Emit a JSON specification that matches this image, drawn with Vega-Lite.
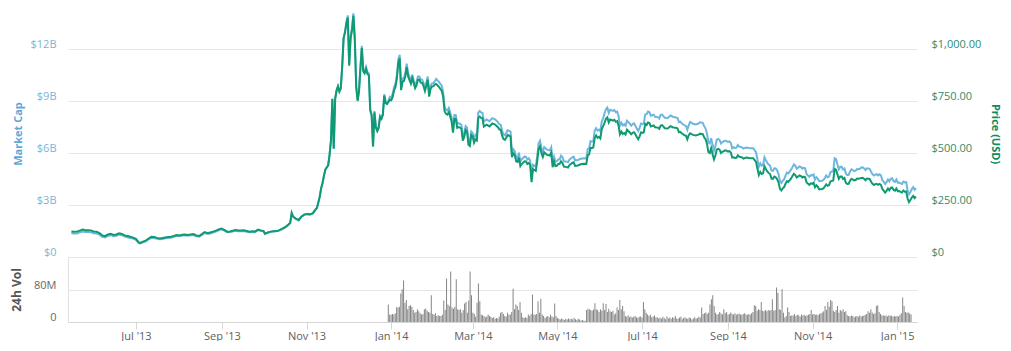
{
"$schema": "https://vega.github.io/schema/vega-lite/v6.json",
"padding": {"left": 10, "top": 9, "right": 5, "bottom": 0},
"background": "white",
"spacing": 0,
"bounds": "flush",
"config": {
  "view": {"stroke": null},
  "font": "Open Sans",
  "axis": {"labelFont": "Open Sans", "titleFont": "Open Sans", "labelFontSize": 11, "domain": false, "ticks": false}
},
"datasets": {
"price": [
{"d":"2013-05-19","p":123,"c":1.37},{"d":"2013-05-21","p":121,"c":1.35},{"d":"2013-05-23","p":122,"c":1.36},{"d":"2013-05-25","p":127,"c":1.42},{"d":"2013-05-27","p":132,"c":1.47},{"d":"2013-05-29","p":129,"c":1.44},{"d":"2013-05-31","p":129,"c":1.44},
{"d":"2013-06-02","p":128,"c":1.43},{"d":"2013-06-04","p":122,"c":1.37},{"d":"2013-06-06","p":121,"c":1.36},{"d":"2013-06-08","p":115,"c":1.29},{"d":"2013-06-10","p":104,"c":1.17},{"d":"2013-06-12","p":100,"c":1.13},{"d":"2013-06-14","p":108,"c":1.22},{"d":"2013-06-16","p":112,"c":1.26},{"d":"2013-06-18","p":106,"c":1.20},{"d":"2013-06-20","p":108,"c":1.22},{"d":"2013-06-22","p":114,"c":1.29},{"d":"2013-06-24","p":111,"c":1.26},{"d":"2013-06-26","p":104,"c":1.18},{"d":"2013-06-28","p":101,"c":1.14},{"d":"2013-06-30","p":97,"c":1.10},
{"d":"2013-07-02","p":93,"c":1.06},{"d":"2013-07-04","p":87,"c":0.99},{"d":"2013-07-06","p":70,"c":0.80},{"d":"2013-07-07","p":68,"c":0.78},{"d":"2013-07-09","p":74,"c":0.85},{"d":"2013-07-11","p":79,"c":0.90},{"d":"2013-07-13","p":89,"c":1.02},{"d":"2013-07-15","p":97,"c":1.11},{"d":"2013-07-17","p":96,"c":1.10},{"d":"2013-07-19","p":92,"c":1.05},{"d":"2013-07-21","p":89,"c":1.02},{"d":"2013-07-23","p":91,"c":1.04},{"d":"2013-07-25","p":94,"c":1.08},{"d":"2013-07-27","p":96,"c":1.10},{"d":"2013-07-29","p":97,"c":1.11},{"d":"2013-07-31","p":101,"c":1.16},
{"d":"2013-08-02","p":106,"c":1.22},{"d":"2013-08-04","p":104,"c":1.20},{"d":"2013-08-06","p":107,"c":1.24},{"d":"2013-08-08","p":108,"c":1.25},{"d":"2013-08-10","p":106,"c":1.22},{"d":"2013-08-12","p":108,"c":1.25},{"d":"2013-08-14","p":110,"c":1.27},{"d":"2013-08-16","p":104,"c":1.20},{"d":"2013-08-18","p":101,"c":1.17},{"d":"2013-08-20","p":110,"c":1.27},{"d":"2013-08-22","p":120,"c":1.39},{"d":"2013-08-24","p":115,"c":1.33},{"d":"2013-08-26","p":118,"c":1.36},{"d":"2013-08-28","p":122,"c":1.41},{"d":"2013-08-30","p":127,"c":1.47},
{"d":"2013-09-01","p":133,"c":1.54},{"d":"2013-09-03","p":137,"c":1.60},{"d":"2013-09-05","p":130,"c":1.52},{"d":"2013-09-07","p":122,"c":1.43},{"d":"2013-09-09","p":123,"c":1.44},{"d":"2013-09-11","p":126,"c":1.47},{"d":"2013-09-13","p":130,"c":1.52},{"d":"2013-09-15","p":127,"c":1.49},{"d":"2013-09-17","p":127,"c":1.49},{"d":"2013-09-19","p":128,"c":1.50},{"d":"2013-09-21","p":125,"c":1.46},{"d":"2013-09-23","p":122,"c":1.43},{"d":"2013-09-25","p":124,"c":1.45},{"d":"2013-09-27","p":123,"c":1.44},{"d":"2013-09-29","p":132,"c":1.55},
{"d":"2013-10-01","p":128,"c":1.50},{"d":"2013-10-03","p":125,"c":1.48},{"d":"2013-10-04","p":112,"c":1.33},{"d":"2013-10-06","p":118,"c":1.40},{"d":"2013-10-08","p":122,"c":1.45},{"d":"2013-10-10","p":124,"c":1.47},{"d":"2013-10-12","p":125,"c":1.48},{"d":"2013-10-14","p":128,"c":1.52},{"d":"2013-10-16","p":135,"c":1.60},{"d":"2013-10-18","p":142,"c":1.68},{"d":"2013-10-20","p":152,"c":1.80},{"d":"2013-10-22","p":165,"c":1.96},{"d":"2013-10-23","p":212,"c":2.51},{"d":"2013-10-24","p":195,"c":2.31},{"d":"2013-10-26","p":185,"c":2.19},{"d":"2013-10-28","p":178,"c":2.11},{"d":"2013-10-30","p":195,"c":2.31},
{"d":"2013-11-01","p":204,"c":2.45},{"d":"2013-11-03","p":207,"c":2.48},{"d":"2013-11-05","p":205,"c":2.46},{"d":"2013-11-07","p":210,"c":2.52},{"d":"2013-11-09","p":228,"c":2.74},{"d":"2013-11-10","p":236,"c":2.83},{"d":"2013-11-11","p":262,"c":3.14},{"d":"2013-11-12","p":290,"c":3.48},{"d":"2013-11-13","p":330,"c":3.96},{"d":"2013-11-14","p":355,"c":4.27},{"d":"2013-11-15","p":390,"c":4.69},{"d":"2013-11-16","p":420,"c":5.05},{"d":"2013-11-17","p":430,"c":5.17},{"d":"2013-11-18","p":440,"c":5.29},{"d":"2013-11-19","p":490,"c":5.89},{"d":"2013-11-20","p":560,"c":6.73},{"d":"2013-11-21","p":760,"c":9.14},{"d":"2013-11-22","p":520,"c":6.25},{"d":"2013-11-23","p":760,"c":9.14},{"d":"2013-11-24","p":800,"c":9.62},{"d":"2013-11-25","p":820,"c":9.86},{"d":"2013-11-26","p":795,"c":9.56},{"d":"2013-11-27","p":810,"c":9.74},{"d":"2013-11-28","p":913,"c":10.97},{"d":"2013-11-29","p":1050,"c":12.62},{"d":"2013-11-30","p":1080,"c":12.98},
{"d":"2013-12-01","p":1120,"c":13.57},{"d":"2013-12-02","p":1150,"c":13.94},{"d":"2013-12-03","p":920,"c":11.15},{"d":"2013-12-04","p":1050,"c":12.73},{"d":"2013-12-05","p":1090,"c":13.21},{"d":"2013-12-06","p":1160,"c":14.06},{"d":"2013-12-07","p":1045,"c":12.67},{"d":"2013-12-08","p":816,"c":9.89},{"d":"2013-12-09","p":750,"c":9.09},{"d":"2013-12-10","p":795,"c":9.64},{"d":"2013-12-11","p":905,"c":10.97},{"d":"2013-12-12","p":1005,"c":12.18},{"d":"2013-12-13","p":893,"c":10.82},{"d":"2013-12-14","p":883,"c":10.70},{"d":"2013-12-15","p":905,"c":10.97},{"d":"2013-12-16","p":880,"c":10.67},{"d":"2013-12-17","p":874,"c":10.59},{"d":"2013-12-18","p":704,"c":8.53},{"d":"2013-12-19","p":680,"c":8.24},{"d":"2013-12-20","p":530,"c":6.42},{"d":"2013-12-21","p":695,"c":8.42},{"d":"2013-12-22","p":622,"c":7.54},{"d":"2013-12-23","p":605,"c":7.33},{"d":"2013-12-24","p":619,"c":7.50},{"d":"2013-12-25","p":673,"c":8.16},{"d":"2013-12-26","p":664,"c":8.05},{"d":"2013-12-27","p":682,"c":8.27},{"d":"2013-12-28","p":775,"c":9.39},{"d":"2013-12-29","p":740,"c":8.97},{"d":"2013-12-30","p":735,"c":8.91},{"d":"2013-12-31","p":745,"c":9.03},
{"d":"2014-01-01","p":756,"c":9.24},{"d":"2014-01-02","p":754,"c":9.21},{"d":"2014-01-03","p":770,"c":9.41},{"d":"2014-01-04","p":802,"c":9.80},{"d":"2014-01-05","p":818,"c":10.00},{"d":"2014-01-06","p":859,"c":10.50},{"d":"2014-01-07","p":933,"c":11.40},{"d":"2014-01-08","p":955,"c":11.67},{"d":"2014-01-09","p":802,"c":9.80},{"d":"2014-01-10","p":842,"c":10.29},{"d":"2014-01-11","p":846,"c":10.34},{"d":"2014-01-12","p":868,"c":10.61},{"d":"2014-01-13","p":913,"c":11.16},{"d":"2014-01-14","p":868,"c":10.61},{"d":"2014-01-15","p":850,"c":10.39},{"d":"2014-01-16","p":833,"c":10.18},{"d":"2014-01-17","p":860,"c":10.51},{"d":"2014-01-18","p":835,"c":10.20},{"d":"2014-01-19","p":812,"c":9.92},{"d":"2014-01-20","p":826,"c":10.09},{"d":"2014-01-21","p":852,"c":10.41},{"d":"2014-01-22","p":852,"c":10.41},{"d":"2014-01-23","p":838,"c":10.24},{"d":"2014-01-24","p":837,"c":10.23},{"d":"2014-01-25","p":821,"c":10.03},{"d":"2014-01-26","p":798,"c":9.75},{"d":"2014-01-27","p":823,"c":10.06},{"d":"2014-01-28","p":852,"c":10.41},{"d":"2014-01-29","p":771,"c":9.42},{"d":"2014-01-30","p":809,"c":9.89},{"d":"2014-01-31","p":819,"c":10.01},
{"d":"2014-02-01","p":821,"c":10.03},{"d":"2014-02-02","p":829,"c":10.13},{"d":"2014-02-03","p":832,"c":10.27},{"d":"2014-02-05","p":818,"c":10.10},{"d":"2014-02-07","p":799,"c":9.87},{"d":"2014-02-08","p":769,"c":9.50},{"d":"2014-02-09","p":701,"c":8.66},{"d":"2014-02-10","p":688,"c":8.50},{"d":"2014-02-11","p":684,"c":8.45},{"d":"2014-02-12","p":696,"c":8.60},{"d":"2014-02-13","p":676,"c":8.35},{"d":"2014-02-14","p":651,"c":8.04},{"d":"2014-02-15","p":598,"c":7.39},{"d":"2014-02-16","p":664,"c":8.20},{"d":"2014-02-17","p":663,"c":8.19},{"d":"2014-02-18","p":621,"c":7.67},{"d":"2014-02-19","p":625,"c":7.72},{"d":"2014-02-20","p":622,"c":7.68},{"d":"2014-02-21","p":616,"c":7.61},{"d":"2014-02-22","p":560,"c":6.92},{"d":"2014-02-23","p":577,"c":7.13},{"d":"2014-02-24","p":611,"c":7.55},{"d":"2014-02-25","p":604,"c":7.46},{"d":"2014-02-26","p":540,"c":6.67},{"d":"2014-02-27","p":534,"c":6.59},{"d":"2014-02-28","p":586,"c":7.24},
{"d":"2014-03-01","p":580,"c":7.16},{"d":"2014-03-02","p":549,"c":6.78},{"d":"2014-03-03","p":565,"c":7.05},{"d":"2014-03-04","p":560,"c":6.98},{"d":"2014-03-05","p":668,"c":8.33},{"d":"2014-03-06","p":675,"c":8.42},{"d":"2014-03-07","p":669,"c":8.34},{"d":"2014-03-08","p":667,"c":8.32},{"d":"2014-03-09","p":627,"c":7.82},{"d":"2014-03-11","p":636,"c":7.93},{"d":"2014-03-13","p":628,"c":7.83},{"d":"2014-03-15","p":642,"c":8.01},{"d":"2014-03-17","p":637,"c":7.94},{"d":"2014-03-19","p":624,"c":7.78},{"d":"2014-03-20","p":614,"c":7.66},{"d":"2014-03-21","p":612,"c":7.63},{"d":"2014-03-22","p":583,"c":7.27},{"d":"2014-03-23","p":567,"c":7.07},{"d":"2014-03-24","p":563,"c":7.02},{"d":"2014-03-26","p":587,"c":7.32},{"d":"2014-03-27","p":583,"c":7.27},{"d":"2014-03-28","p":580,"c":7.23},{"d":"2014-03-29","p":480,"c":5.99},{"d":"2014-03-30","p":498,"c":6.21},{"d":"2014-03-31","p":490,"c":6.11},
{"d":"2014-04-01","p":460,"c":5.74},{"d":"2014-04-02","p":457,"c":5.70},{"d":"2014-04-03","p":478,"c":6.02},{"d":"2014-04-04","p":437,"c":5.51},{"d":"2014-04-05","p":447,"c":5.63},{"d":"2014-04-07","p":460,"c":5.80},{"d":"2014-04-08","p":459,"c":5.78},{"d":"2014-04-09","p":447,"c":5.63},{"d":"2014-04-10","p":452,"c":5.70},{"d":"2014-04-11","p":442,"c":5.57},{"d":"2014-04-12","p":360,"c":4.54},{"d":"2014-04-13","p":422,"c":5.32},{"d":"2014-04-15","p":414,"c":5.22},{"d":"2014-04-16","p":460,"c":5.80},{"d":"2014-04-17","p":519,"c":6.54},{"d":"2014-04-18","p":532,"c":6.70},{"d":"2014-04-19","p":500,"c":6.30},{"d":"2014-04-20","p":481,"c":6.06},{"d":"2014-04-21","p":503,"c":6.34},{"d":"2014-04-23","p":491,"c":6.19},{"d":"2014-04-25","p":488,"c":6.15},{"d":"2014-04-26","p":502,"c":6.33},{"d":"2014-04-27","p":432,"c":5.44},{"d":"2014-04-28","p":459,"c":5.78},{"d":"2014-04-29","p":437,"c":5.51},{"d":"2014-04-30","p":438,"c":5.52},
{"d":"2014-05-01","p":447,"c":5.63},{"d":"2014-05-02","p":448,"c":5.64},{"d":"2014-05-03","p":460,"c":5.85},{"d":"2014-05-04","p":452,"c":5.75},{"d":"2014-05-05","p":435,"c":5.53},{"d":"2014-05-07","p":432,"c":5.50},{"d":"2014-05-08","p":430,"c":5.47},{"d":"2014-05-09","p":442,"c":5.62},{"d":"2014-05-11","p":452,"c":5.75},{"d":"2014-05-12","p":455,"c":5.79},{"d":"2014-05-13","p":438,"c":5.57},{"d":"2014-05-15","p":440,"c":5.60},{"d":"2014-05-17","p":446,"c":5.67},{"d":"2014-05-19","p":448,"c":5.70},{"d":"2014-05-21","p":447,"c":5.69},{"d":"2014-05-22","p":489,"c":6.22},{"d":"2014-05-23","p":493,"c":6.27},{"d":"2014-05-24","p":525,"c":6.68},{"d":"2014-05-25","p":523,"c":6.65},{"d":"2014-05-26","p":527,"c":6.70},{"d":"2014-05-27","p":573,"c":7.29},{"d":"2014-05-28","p":584,"c":7.43},{"d":"2014-05-29","p":573,"c":7.29},{"d":"2014-05-30","p":578,"c":7.35},{"d":"2014-05-31","p":570,"c":7.25},
{"d":"2014-06-01","p":614,"c":7.81},{"d":"2014-06-02","p":629,"c":8.00},{"d":"2014-06-03","p":645,"c":8.29},{"d":"2014-06-04","p":664,"c":8.53},{"d":"2014-06-05","p":671,"c":8.62},{"d":"2014-06-06","p":647,"c":8.31},{"d":"2014-06-07","p":661,"c":8.49},{"d":"2014-06-09","p":656,"c":8.43},{"d":"2014-06-10","p":660,"c":8.48},{"d":"2014-06-11","p":650,"c":8.35},{"d":"2014-06-12","p":653,"c":8.39},{"d":"2014-06-13","p":632,"c":8.12},{"d":"2014-06-14","p":590,"c":7.58},{"d":"2014-06-15","p":603,"c":7.75},{"d":"2014-06-16","p":591,"c":7.59},{"d":"2014-06-17","p":596,"c":7.66},{"d":"2014-06-18","p":589,"c":7.57},{"d":"2014-06-19","p":612,"c":7.86},{"d":"2014-06-21","p":599,"c":7.70},{"d":"2014-06-22","p":590,"c":7.58},{"d":"2014-06-23","p":597,"c":7.67},{"d":"2014-06-24","p":600,"c":7.71},{"d":"2014-06-25","p":590,"c":7.58},{"d":"2014-06-26","p":577,"c":7.41},{"d":"2014-06-27","p":566,"c":7.27},{"d":"2014-06-28","p":580,"c":7.45},{"d":"2014-06-29","p":599,"c":7.70},{"d":"2014-06-30","p":597,"c":7.67},
{"d":"2014-07-01","p":600,"c":7.71},{"d":"2014-07-02","p":640,"c":8.22},{"d":"2014-07-03","p":635,"c":8.24},{"d":"2014-07-04","p":647,"c":8.39},{"d":"2014-07-05","p":644,"c":8.35},{"d":"2014-07-06","p":628,"c":8.15},{"d":"2014-07-08","p":633,"c":8.21},{"d":"2014-07-09","p":624,"c":8.09},{"d":"2014-07-11","p":622,"c":8.07},{"d":"2014-07-12","p":616,"c":7.99},{"d":"2014-07-13","p":632,"c":8.20},{"d":"2014-07-14","p":634,"c":8.22},{"d":"2014-07-16","p":619,"c":8.03},{"d":"2014-07-18","p":618,"c":8.02},{"d":"2014-07-20","p":629,"c":8.16},{"d":"2014-07-22","p":623,"c":8.08},{"d":"2014-07-24","p":621,"c":8.05},{"d":"2014-07-25","p":618,"c":8.02},{"d":"2014-07-26","p":600,"c":7.78},{"d":"2014-07-27","p":602,"c":7.81},{"d":"2014-07-28","p":595,"c":7.72},{"d":"2014-07-30","p":585,"c":7.59},{"d":"2014-07-31","p":584,"c":7.57},
{"d":"2014-08-01","p":566,"c":7.34},{"d":"2014-08-02","p":585,"c":7.59},{"d":"2014-08-03","p":595,"c":7.79},{"d":"2014-08-05","p":587,"c":7.69},{"d":"2014-08-07","p":584,"c":7.65},{"d":"2014-08-09","p":588,"c":7.70},{"d":"2014-08-10","p":593,"c":7.77},{"d":"2014-08-12","p":591,"c":7.74},{"d":"2014-08-13","p":576,"c":7.55},{"d":"2014-08-14","p":566,"c":7.41},{"d":"2014-08-15","p":545,"c":7.14},{"d":"2014-08-16","p":505,"c":6.62},{"d":"2014-08-17","p":500,"c":6.55},{"d":"2014-08-18","p":523,"c":6.85},{"d":"2014-08-19","p":494,"c":6.47},{"d":"2014-08-20","p":469,"c":6.14},{"d":"2014-08-21","p":488,"c":6.39},{"d":"2014-08-22","p":517,"c":6.77},{"d":"2014-08-23","p":520,"c":6.81},{"d":"2014-08-24","p":516,"c":6.76},{"d":"2014-08-25","p":500,"c":6.55},{"d":"2014-08-26","p":506,"c":6.63},{"d":"2014-08-28","p":513,"c":6.72},{"d":"2014-08-29","p":511,"c":6.69},{"d":"2014-08-30","p":507,"c":6.64},{"d":"2014-08-31","p":509,"c":6.67},
{"d":"2014-09-01","p":502,"c":6.58},{"d":"2014-09-02","p":478,"c":6.26},{"d":"2014-09-03","p":479,"c":6.33},{"d":"2014-09-04","p":476,"c":6.29},{"d":"2014-09-05","p":477,"c":6.31},{"d":"2014-09-06","p":489,"c":6.46},{"d":"2014-09-07","p":482,"c":6.37},{"d":"2014-09-09","p":479,"c":6.33},{"d":"2014-09-10","p":473,"c":6.25},{"d":"2014-09-12","p":478,"c":6.32},{"d":"2014-09-14","p":476,"c":6.29},{"d":"2014-09-16","p":475,"c":6.28},{"d":"2014-09-17","p":475,"c":6.28},{"d":"2014-09-18","p":466,"c":6.16},{"d":"2014-09-19","p":457,"c":6.04},{"d":"2014-09-20","p":424,"c":5.61},{"d":"2014-09-21","p":394,"c":5.21},{"d":"2014-09-22","p":409,"c":5.41},{"d":"2014-09-23","p":399,"c":5.27},{"d":"2014-09-24","p":402,"c":5.31},{"d":"2014-09-25","p":436,"c":5.76},{"d":"2014-09-26","p":423,"c":5.59},{"d":"2014-09-27","p":411,"c":5.43},{"d":"2014-09-28","p":404,"c":5.34},{"d":"2014-09-29","p":399,"c":5.27},{"d":"2014-09-30","p":377,"c":4.98},
{"d":"2014-10-01","p":376,"c":4.97},{"d":"2014-10-02","p":387,"c":5.12},{"d":"2014-10-03","p":383,"c":5.11},{"d":"2014-10-04","p":375,"c":5.00},{"d":"2014-10-05","p":359,"c":4.79},{"d":"2014-10-06","p":328,"c":4.38},{"d":"2014-10-07","p":320,"c":4.27},{"d":"2014-10-08","p":330,"c":4.40},{"d":"2014-10-09","p":336,"c":4.48},{"d":"2014-10-10","p":352,"c":4.70},{"d":"2014-10-11","p":365,"c":4.87},{"d":"2014-10-12","p":361,"c":4.82},{"d":"2014-10-14","p":378,"c":5.04},{"d":"2014-10-15","p":390,"c":5.20},{"d":"2014-10-16","p":400,"c":5.34},{"d":"2014-10-17","p":394,"c":5.26},{"d":"2014-10-18","p":382,"c":5.10},{"d":"2014-10-20","p":392,"c":5.23},{"d":"2014-10-21","p":389,"c":5.19},{"d":"2014-10-22","p":382,"c":5.10},{"d":"2014-10-23","p":386,"c":5.15},{"d":"2014-10-24","p":383,"c":5.11},{"d":"2014-10-25","p":358,"c":4.78},{"d":"2014-10-27","p":347,"c":4.63},{"d":"2014-10-28","p":354,"c":4.72},{"d":"2014-10-29","p":352,"c":4.70},{"d":"2014-10-30","p":357,"c":4.76},{"d":"2014-10-31","p":335,"c":4.47},
{"d":"2014-11-01","p":345,"c":4.60},{"d":"2014-11-02","p":338,"c":4.51},{"d":"2014-11-03","p":325,"c":4.37},{"d":"2014-11-05","p":327,"c":4.40},{"d":"2014-11-06","p":330,"c":4.44},{"d":"2014-11-07","p":339,"c":4.56},{"d":"2014-11-08","p":349,"c":4.70},{"d":"2014-11-09","p":342,"c":4.60},{"d":"2014-11-10","p":345,"c":4.64},{"d":"2014-11-11","p":363,"c":4.89},{"d":"2014-11-12","p":366,"c":4.93},{"d":"2014-11-13","p":367,"c":4.94},{"d":"2014-11-14","p":423,"c":5.69},{"d":"2014-11-15","p":420,"c":5.65},{"d":"2014-11-16","p":397,"c":5.34},{"d":"2014-11-17","p":376,"c":5.06},{"d":"2014-11-18","p":387,"c":5.21},{"d":"2014-11-19","p":387,"c":5.21},{"d":"2014-11-20","p":375,"c":5.05},{"d":"2014-11-21","p":380,"c":5.11},{"d":"2014-11-22","p":357,"c":4.81},{"d":"2014-11-23","p":351,"c":4.72},{"d":"2014-11-24","p":352,"c":4.74},{"d":"2014-11-25","p":367,"c":4.94},{"d":"2014-11-26","p":376,"c":5.06},{"d":"2014-11-28","p":368,"c":4.95},{"d":"2014-11-29","p":370,"c":4.98},{"d":"2014-11-30","p":377,"c":5.07},
{"d":"2014-12-01","p":376,"c":5.06},{"d":"2014-12-02","p":378,"c":5.09},{"d":"2014-12-03","p":380,"c":5.16},{"d":"2014-12-04","p":381,"c":5.17},{"d":"2014-12-05","p":376,"c":5.11},{"d":"2014-12-06","p":369,"c":5.01},{"d":"2014-12-07","p":377,"c":5.12},{"d":"2014-12-09","p":375,"c":5.09},{"d":"2014-12-10","p":362,"c":4.92},{"d":"2014-12-11","p":352,"c":4.78},{"d":"2014-12-12","p":346,"c":4.70},{"d":"2014-12-13","p":350,"c":4.75},{"d":"2014-12-14","p":352,"c":4.78},{"d":"2014-12-15","p":347,"c":4.71},{"d":"2014-12-16","p":351,"c":4.77},{"d":"2014-12-17","p":347,"c":4.71},{"d":"2014-12-18","p":327,"c":4.44},{"d":"2014-12-19","p":319,"c":4.33},{"d":"2014-12-20","p":310,"c":4.21},{"d":"2014-12-21","p":318,"c":4.32},{"d":"2014-12-22","p":329,"c":4.47},{"d":"2014-12-23","p":321,"c":4.36},{"d":"2014-12-24","p":332,"c":4.51},{"d":"2014-12-25","p":334,"c":4.54},{"d":"2014-12-26","p":322,"c":4.37},{"d":"2014-12-27","p":319,"c":4.33},{"d":"2014-12-28","p":329,"c":4.47},{"d":"2014-12-29","p":316,"c":4.29},{"d":"2014-12-30","p":317,"c":4.30},{"d":"2014-12-31","p":313,"c":4.25},
{"d":"2015-01-01","p":310,"c":4.21},{"d":"2015-01-02","p":320,"c":4.35},{"d":"2015-01-03","p":314,"c":4.30},{"d":"2015-01-04","p":315,"c":4.32},{"d":"2015-01-05","p":281,"c":3.85},{"d":"2015-01-06","p":264,"c":3.62},{"d":"2015-01-07","p":274,"c":3.75},{"d":"2015-01-08","p":286,"c":3.92},{"d":"2015-01-09","p":294,"c":4.03},{"d":"2015-01-10","p":283,"c":3.88},{"d":"2015-01-11","p":290,"c":3.97}
],
"vol": [
{"d":"2013-12-30","v":44},{"d":"2013-12-31","v":19},
{"d":"2014-01-01","v":18},{"d":"2014-01-02","v":20},{"d":"2014-01-03","v":19},{"d":"2014-01-04","v":22},{"d":"2014-01-05","v":37},{"d":"2014-01-06","v":36},{"d":"2014-01-07","v":38},{"d":"2014-01-08","v":71},{"d":"2014-01-09","v":82},{"d":"2014-01-10","v":104},{"d":"2014-01-11","v":48},{"d":"2014-01-12","v":55},{"d":"2014-01-13","v":32},{"d":"2014-01-14","v":40},{"d":"2014-01-15","v":42},{"d":"2014-01-16","v":38},{"d":"2014-01-17","v":30},{"d":"2014-01-18","v":23},{"d":"2014-01-19","v":25},{"d":"2014-01-20","v":32},{"d":"2014-01-21","v":27},{"d":"2014-01-22","v":22},{"d":"2014-01-23","v":19},{"d":"2014-01-24","v":20},{"d":"2014-01-25","v":32},{"d":"2014-01-26","v":33},{"d":"2014-01-27","v":28},{"d":"2014-01-28","v":25},{"d":"2014-01-29","v":23},{"d":"2014-01-30","v":67},{"d":"2014-01-31","v":20},
{"d":"2014-02-01","v":18},{"d":"2014-02-02","v":22},{"d":"2014-02-03","v":15},{"d":"2014-02-04","v":17},{"d":"2014-02-05","v":15},{"d":"2014-02-06","v":15},{"d":"2014-02-07","v":18},{"d":"2014-02-08","v":54},{"d":"2014-02-09","v":30},{"d":"2014-02-10","v":109},{"d":"2014-02-11","v":44},{"d":"2014-02-12","v":40},{"d":"2014-02-13","v":126},{"d":"2014-02-14","v":36},{"d":"2014-02-15","v":33},{"d":"2014-02-16","v":38},{"d":"2014-02-17","v":107},{"d":"2014-02-18","v":32},{"d":"2014-02-19","v":30},{"d":"2014-02-20","v":32},{"d":"2014-02-21","v":23},{"d":"2014-02-22","v":30},{"d":"2014-02-23","v":46},{"d":"2014-02-24","v":50},{"d":"2014-02-25","v":23},{"d":"2014-02-26","v":54},{"d":"2014-02-27","v":126},{"d":"2014-02-28","v":67},
{"d":"2014-03-01","v":23},{"d":"2014-03-02","v":20},{"d":"2014-03-03","v":13},{"d":"2014-03-04","v":48},{"d":"2014-03-05","v":96},{"d":"2014-03-06","v":52},{"d":"2014-03-07","v":19},{"d":"2014-03-08","v":17},{"d":"2014-03-09","v":15},{"d":"2014-03-10","v":12},{"d":"2014-03-11","v":14},{"d":"2014-03-12","v":19},{"d":"2014-03-13","v":15},{"d":"2014-03-14","v":13},{"d":"2014-03-15","v":10},{"d":"2014-03-16","v":12},{"d":"2014-03-17","v":8},{"d":"2014-03-18","v":10},{"d":"2014-03-19","v":9},{"d":"2014-03-20","v":14},{"d":"2014-03-21","v":23},{"d":"2014-03-22","v":25},{"d":"2014-03-23","v":20},{"d":"2014-03-24","v":15},{"d":"2014-03-25","v":14},{"d":"2014-03-26","v":23},{"d":"2014-03-27","v":18},{"d":"2014-03-28","v":19},{"d":"2014-03-29","v":25},{"d":"2014-03-30","v":83},{"d":"2014-03-31","v":32},
{"d":"2014-04-01","v":44},{"d":"2014-04-02","v":40},{"d":"2014-04-03","v":30},{"d":"2014-04-04","v":50},{"d":"2014-04-05","v":23},{"d":"2014-04-06","v":12},{"d":"2014-04-07","v":10},{"d":"2014-04-08","v":12},{"d":"2014-04-09","v":10},{"d":"2014-04-10","v":19},{"d":"2014-04-11","v":15},{"d":"2014-04-12","v":20},{"d":"2014-04-13","v":69},{"d":"2014-04-14","v":19},{"d":"2014-04-15","v":18},{"d":"2014-04-16","v":20},{"d":"2014-04-17","v":52},{"d":"2014-04-18","v":23},{"d":"2014-04-19","v":58},{"d":"2014-04-20","v":19},{"d":"2014-04-21","v":15},{"d":"2014-04-22","v":10},{"d":"2014-04-23","v":13},{"d":"2014-04-24","v":15},{"d":"2014-04-25","v":12},{"d":"2014-04-26","v":18},{"d":"2014-04-27","v":14},{"d":"2014-04-28","v":12},{"d":"2014-04-29","v":46},{"d":"2014-04-30","v":15},
{"d":"2014-05-01","v":10},{"d":"2014-05-02","v":8},{"d":"2014-05-03","v":6},{"d":"2014-05-04","v":9},{"d":"2014-05-05","v":7},{"d":"2014-05-06","v":5},{"d":"2014-05-07","v":8},{"d":"2014-05-08","v":6},{"d":"2014-05-09","v":9},{"d":"2014-05-10","v":7},{"d":"2014-05-11","v":8},{"d":"2014-05-12","v":6},{"d":"2014-05-13","v":10},{"d":"2014-05-14","v":7},{"d":"2014-05-15","v":5},{"d":"2014-05-16","v":8},{"d":"2014-05-17","v":6},{"d":"2014-05-18","v":4},{"d":"2014-05-19","v":5},{"d":"2014-05-20","v":3},{"d":"2014-05-21","v":3},{"d":"2014-05-22","v":30},{"d":"2014-05-23","v":33},{"d":"2014-05-24","v":32},{"d":"2014-05-25","v":30},{"d":"2014-05-26","v":28},{"d":"2014-05-27","v":31},{"d":"2014-05-28","v":47},{"d":"2014-05-29","v":32},{"d":"2014-05-30","v":30},{"d":"2014-05-31","v":25},
{"d":"2014-06-01","v":32},{"d":"2014-06-02","v":28},{"d":"2014-06-03","v":47},{"d":"2014-06-04","v":30},{"d":"2014-06-05","v":45},{"d":"2014-06-06","v":25},{"d":"2014-06-07","v":33},{"d":"2014-06-08","v":27},{"d":"2014-06-09","v":25},{"d":"2014-06-10","v":28},{"d":"2014-06-11","v":19},{"d":"2014-06-12","v":22},{"d":"2014-06-13","v":36},{"d":"2014-06-14","v":30},{"d":"2014-06-15","v":55},{"d":"2014-06-16","v":32},{"d":"2014-06-17","v":40},{"d":"2014-06-18","v":27},{"d":"2014-06-19","v":15},{"d":"2014-06-20","v":13},{"d":"2014-06-21","v":17},{"d":"2014-06-22","v":12},{"d":"2014-06-23","v":14},{"d":"2014-06-24","v":11},{"d":"2014-06-25","v":13},{"d":"2014-06-26","v":15},{"d":"2014-06-27","v":12},{"d":"2014-06-28","v":10},{"d":"2014-06-29","v":13},{"d":"2014-06-30","v":14},
{"d":"2014-07-01","v":11},{"d":"2014-07-02","v":50},{"d":"2014-07-03","v":32},{"d":"2014-07-04","v":23},{"d":"2014-07-05","v":19},{"d":"2014-07-06","v":15},{"d":"2014-07-07","v":18},{"d":"2014-07-08","v":12},{"d":"2014-07-09","v":14},{"d":"2014-07-10","v":16},{"d":"2014-07-11","v":11},{"d":"2014-07-12","v":12},{"d":"2014-07-13","v":9},{"d":"2014-07-14","v":11},{"d":"2014-07-15","v":8},{"d":"2014-07-16","v":13},{"d":"2014-07-17","v":10},{"d":"2014-07-18","v":7},{"d":"2014-07-19","v":14},{"d":"2014-07-20","v":9},{"d":"2014-07-21","v":11},{"d":"2014-07-22","v":8},{"d":"2014-07-23","v":12},{"d":"2014-07-24","v":10},{"d":"2014-07-25","v":15},{"d":"2014-07-26","v":9},{"d":"2014-07-27","v":8},{"d":"2014-07-28","v":11},{"d":"2014-07-29","v":13},{"d":"2014-07-30","v":7},{"d":"2014-07-31","v":10},
{"d":"2014-08-01","v":12},{"d":"2014-08-02","v":9},{"d":"2014-08-03","v":8},{"d":"2014-08-04","v":11},{"d":"2014-08-05","v":10},{"d":"2014-08-06","v":6},{"d":"2014-08-07","v":9},{"d":"2014-08-08","v":12},{"d":"2014-08-09","v":8},{"d":"2014-08-10","v":10},{"d":"2014-08-11","v":13},{"d":"2014-08-12","v":11},{"d":"2014-08-13","v":36},{"d":"2014-08-14","v":20},{"d":"2014-08-15","v":22},{"d":"2014-08-16","v":24},{"d":"2014-08-17","v":20},{"d":"2014-08-18","v":23},{"d":"2014-08-19","v":44},{"d":"2014-08-20","v":57},{"d":"2014-08-21","v":67},{"d":"2014-08-22","v":40},{"d":"2014-08-23","v":23},{"d":"2014-08-24","v":19},{"d":"2014-08-25","v":20},{"d":"2014-08-26","v":25},{"d":"2014-08-27","v":21},{"d":"2014-08-28","v":19},{"d":"2014-08-29","v":32},{"d":"2014-08-30","v":22},{"d":"2014-08-31","v":25},
{"d":"2014-09-01","v":18},{"d":"2014-09-02","v":20},{"d":"2014-09-03","v":24},{"d":"2014-09-04","v":20},{"d":"2014-09-05","v":19},{"d":"2014-09-06","v":22},{"d":"2014-09-07","v":18},{"d":"2014-09-08","v":20},{"d":"2014-09-09","v":21},{"d":"2014-09-10","v":19},{"d":"2014-09-11","v":18},{"d":"2014-09-12","v":20},{"d":"2014-09-13","v":22},{"d":"2014-09-14","v":19},{"d":"2014-09-15","v":18},{"d":"2014-09-16","v":20},{"d":"2014-09-17","v":18},{"d":"2014-09-18","v":22},{"d":"2014-09-19","v":25},{"d":"2014-09-20","v":42},{"d":"2014-09-21","v":40},{"d":"2014-09-22","v":28},{"d":"2014-09-23","v":32},{"d":"2014-09-24","v":30},{"d":"2014-09-25","v":50},{"d":"2014-09-26","v":28},{"d":"2014-09-27","v":27},{"d":"2014-09-28","v":30},{"d":"2014-09-29","v":27},{"d":"2014-09-30","v":30},
{"d":"2014-10-01","v":28},{"d":"2014-10-02","v":30},{"d":"2014-10-03","v":57},{"d":"2014-10-04","v":28},{"d":"2014-10-05","v":30},{"d":"2014-10-06","v":86},{"d":"2014-10-07","v":73},{"d":"2014-10-08","v":32},{"d":"2014-10-09","v":30},{"d":"2014-10-10","v":82},{"d":"2014-10-11","v":23},{"d":"2014-10-12","v":11},{"d":"2014-10-13","v":15},{"d":"2014-10-14","v":36},{"d":"2014-10-15","v":25},{"d":"2014-10-16","v":15},{"d":"2014-10-17","v":17},{"d":"2014-10-18","v":16},{"d":"2014-10-19","v":20},{"d":"2014-10-20","v":15},{"d":"2014-10-21","v":18},{"d":"2014-10-22","v":17},{"d":"2014-10-23","v":14},{"d":"2014-10-24","v":19},{"d":"2014-10-25","v":16},{"d":"2014-10-26","v":18},{"d":"2014-10-27","v":15},{"d":"2014-10-28","v":17},{"d":"2014-10-29","v":18},{"d":"2014-10-30","v":20},{"d":"2014-10-31","v":30},
{"d":"2014-11-01","v":19},{"d":"2014-11-02","v":20},{"d":"2014-11-03","v":18},{"d":"2014-11-04","v":19},{"d":"2014-11-05","v":17},{"d":"2014-11-06","v":20},{"d":"2014-11-07","v":22},{"d":"2014-11-08","v":24},{"d":"2014-11-09","v":27},{"d":"2014-11-10","v":40},{"d":"2014-11-11","v":30},{"d":"2014-11-12","v":50},{"d":"2014-11-13","v":38},{"d":"2014-11-14","v":55},{"d":"2014-11-15","v":52},{"d":"2014-11-16","v":28},{"d":"2014-11-17","v":25},{"d":"2014-11-18","v":30},{"d":"2014-11-19","v":40},{"d":"2014-11-20","v":23},{"d":"2014-11-21","v":30},{"d":"2014-11-22","v":27},{"d":"2014-11-23","v":32},{"d":"2014-11-24","v":25},{"d":"2014-11-25","v":27},{"d":"2014-11-26","v":17},{"d":"2014-11-27","v":15},{"d":"2014-11-28","v":14},{"d":"2014-11-29","v":16},{"d":"2014-11-30","v":15},
{"d":"2014-12-01","v":12},{"d":"2014-12-02","v":14},{"d":"2014-12-03","v":15},{"d":"2014-12-04","v":13},{"d":"2014-12-05","v":16},{"d":"2014-12-06","v":14},{"d":"2014-12-07","v":15},{"d":"2014-12-08","v":16},{"d":"2014-12-09","v":18},{"d":"2014-12-10","v":20},{"d":"2014-12-11","v":27},{"d":"2014-12-12","v":23},{"d":"2014-12-13","v":32},{"d":"2014-12-14","v":24},{"d":"2014-12-15","v":20},{"d":"2014-12-16","v":22},{"d":"2014-12-17","v":40},{"d":"2014-12-18","v":42},{"d":"2014-12-19","v":25},{"d":"2014-12-20","v":20},{"d":"2014-12-21","v":16},{"d":"2014-12-22","v":17},{"d":"2014-12-23","v":15},{"d":"2014-12-24","v":16},{"d":"2014-12-25","v":14},{"d":"2014-12-26","v":17},{"d":"2014-12-27","v":15},{"d":"2014-12-28","v":16},{"d":"2014-12-29","v":13},{"d":"2014-12-30","v":15},{"d":"2014-12-31","v":14},
{"d":"2015-01-01","v":15},{"d":"2015-01-02","v":14},{"d":"2015-01-03","v":18},{"d":"2015-01-04","v":22},{"d":"2015-01-05","v":61},{"d":"2015-01-06","v":40},{"d":"2015-01-07","v":25},{"d":"2015-01-08","v":23},{"d":"2015-01-09","v":24},{"d":"2015-01-10","v":21},{"d":"2015-01-11","v":19}
]
},
"vconcat": [
{
  "width": 849,
  "height": 247,
  "data": {"name": "price"},
  "encoding": {
    "x": {"field": "d", "type": "temporal",
      "scale": {"type": "utc", "domain": [{"year": 2013, "month": 5, "date": 16, "hours": 14, "utc": true}, {"year": 2015, "month": 1, "date": 11, "hours": 17, "utc": true}]},
      "axis": null}
  },
  "layer": [
    {
      "mark": {"type": "line", "color": "#6db6dd", "strokeWidth": 2},
      "encoding": {
        "y": {"field": "c", "type": "quantitative",
          "scale": {"domain": [0, 14.25], "nice": false},
          "axis": {"orient": "left", "values": [0, 3, 6, 9, 12],
            "labelExpr": "datum.value == 0 ? '$0' : '$' + datum.value + 'B'",
            "grid": true, "gridColor": "#e6e6e6", "labelColor": "#7ab4d8", "labelPadding": 12, "labelOffset": -5,
            "minExtent": 40, "maxExtent": 40,
            "title": "Market Cap", "titleColor": "#5fa8d6", "titleFontSize": 11, "titleFontWeight": "bold", "titlePadding": 5}}
      }
    },
    {
      "mark": {"type": "line", "color": "#0f9a72", "strokeWidth": 2},
      "encoding": {
        "y": {"field": "p", "type": "quantitative",
          "scale": {"domain": [0, 1187.5], "nice": false},
          "axis": {"orient": "right", "values": [0, 250, 500, 750, 1000],
            "labelExpr": "datum.value == 0 ? '$0' : '$' + format(datum.value, ',.2f')",
            "grid": false, "labelColor": "#2e8d6c", "labelPadding": 14, "labelOffset": -5,
            "minExtent": 70, "maxExtent": 70,
            "title": "Price (USD)", "titleColor": "#0f8a62", "titleFontSize": 11, "titleFontWeight": "bold", "titlePadding": 2}}
      }
    }
  ],
  "resolve": {"scale": {"y": "independent"}, "axis": {"y": "independent"}}
},
{
  "width": 849,
  "height": 65,
  "data": {"name": "vol"},
  "mark": {"type": "bar", "color": "#858585", "width": 1},
  "encoding": {
    "x": {"field": "d", "type": "temporal",
      "scale": {"type": "utc", "domain": [{"year": 2013, "month": 5, "date": 16, "hours": 14, "utc": true}, {"year": 2015, "month": 1, "date": 11, "hours": 17, "utc": true}]},
      "axis": {"title": null,
        "labelExpr": "utcFormat(datum.value, '%b') + \" '\" + utcFormat(datum.value, '%y')",
        "values": [
          {"year": 2013, "month": 7, "date": 1, "utc": true}, {"year": 2013, "month": 9, "date": 1, "utc": true}, {"year": 2013, "month": 11, "date": 1, "utc": true},
          {"year": 2014, "month": 1, "date": 1, "utc": true}, {"year": 2014, "month": 3, "date": 1, "utc": true}, {"year": 2014, "month": 5, "date": 1, "utc": true},
          {"year": 2014, "month": 7, "date": 1, "utc": true}, {"year": 2014, "month": 9, "date": 1, "utc": true}, {"year": 2014, "month": 11, "date": 1, "utc": true},
          {"year": 2015, "month": 1, "date": 1, "utc": true}],
        "domain": true, "domainColor": "#d6d6d6", "ticks": true, "tickSize": 7, "tickColor": "#d6d6d6",
        "labelColor": "#606060", "labelPadding": 1, "grid": false}},
    "y": {"field": "v", "type": "quantitative",
      "scale": {"domain": [0, 162.5], "nice": false},
      "axis": {"orient": "left", "values": [0, 80],
        "labelExpr": "datum.value == 0 ? '0' : datum.value + 'M'",
        "grid": true, "gridColor": "#e6e6e6", "domain": true, "domainColor": "#e0e0e0",
        "labelColor": "#666666", "labelPadding": 12, "labelOffset": -5,
        "minExtent": 40, "maxExtent": 40,
        "title": "24h Vol", "titleColor": "#555555", "titleFontSize": 12, "titleFontWeight": "bold", "titlePadding": 5}}
  }
}
]
}
